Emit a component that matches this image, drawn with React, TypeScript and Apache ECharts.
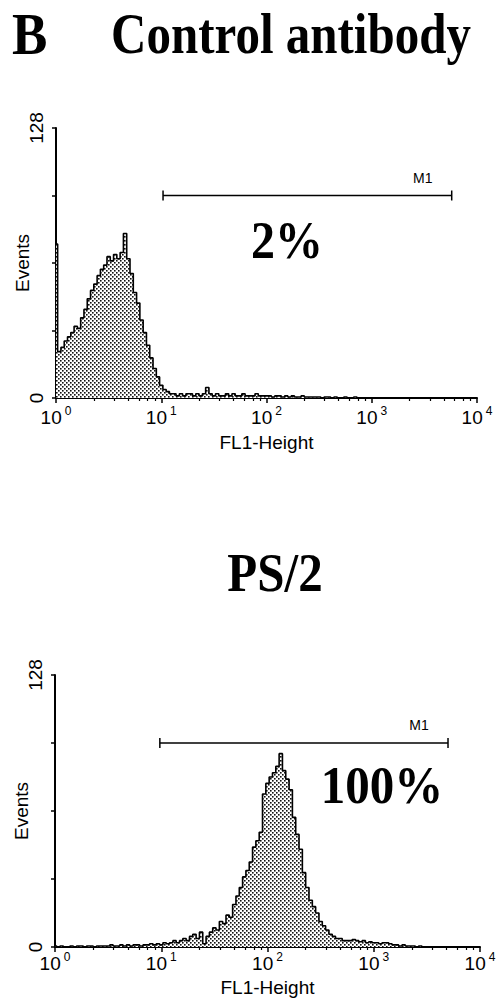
import React, { useEffect, useRef } from "react";
import * as echarts from "echarts";

// ---- data ----
const CHANNELS_PER_DECADE = 32;
const decades = [0, 1, 2, 3, 4];
const yTickLabels = [0, 128];
const percentLabels = ["2%", "100%"];
const panelTitles = ["Control antibody", "PS/2"];
const m1Top = [10.4, 5750];
const m1Bottom = [9.7, 5000];
const m1Level = 96;

// Control antibody histogram counts (128 channels, 32 per decade)
const controlCounts = [
  73, 22, 24, 27, 29, 31, 34, 33, 38, 42, 47, 51, 54, 58, 61, 63,
  67, 65, 68, 66, 69, 78, 66, 59, 50, 45, 37, 31, 25, 19, 14, 10,
  6, 4, 3, 2, 2, 1, 2, 1, 2, 2, 1, 2, 1, 2, 5, 2,
  1, 2, 1, 1, 2, 1, 2, 1, 1, 2, 1, 1, 1, 2, 1, 1,
  1, 1, 0.5, 1, 1, 0.5, 1, 0.5, 1, 0.5, 0.5, 1, 0.5, 0.5, 0.5, 0.5,
  0.5, 0, 0.5, 0.5, 0, 0.5, 0, 0, 0.5, 0, 0, 0.5, 0, 0, 0, 0,
  0, 0, 0, 0, 0, 0, 0, 0, 0, 0, 0, 0, 0, 0, 0, 0,
  0, 0, 0, 0, 0, 0, 0, 0, 0, 0, 0, 0, 0, 0, 0, 0,
];

// PS/2 histogram counts
const ps2Counts = [
  0.5, 0, 0.5, 0, 0, 0.5, 0, 0.5, 0.5, 0, 0.5, 0.5, 0, 0.5, 0.5, 0.5,
  0.5, 1, 0.5, 0.5, 1, 0.5, 1, 0.5, 1, 1, 0.5, 1, 1, 1.5, 1, 1.5,
  1, 2, 1.5, 2, 3, 2, 3, 4, 3, 5, 6, 4, 7, 1.5, 5, 7,
  9, 8, 12, 11, 15, 14, 20, 24, 28, 33, 36, 40, 47, 50, 54, 72,
  77, 80, 82, 85, 91, 83, 79, 74, 61, 53, 46, 35, 28, 22, 19, 16,
  12, 10, 8, 6, 5, 4, 4, 3, 3, 3, 3.5, 3, 2.5, 3, 2, 2.5,
  2, 2, 1.5, 2, 2, 1.5, 1, 1, 0.5, 1, 0.5, 0.5, 0.5, 0, 0.5, 0,
  0, 0, 0, 0, 0, 0, 0, 0, 0, 0, 0, 0, 0, 0, 0, 0,
];

function toPoints(counts: number[]) {
  return counts.map((c, i) => [Math.pow(10, i / CHANNELS_PER_DECADE), c]);
}

function makePattern() {
  const c = document.createElement("canvas");
  c.width = 4;
  c.height = 4;
  const ctx = c.getContext("2d")!;
  ctx.fillStyle = "#ffffff";
  ctx.fillRect(0, 0, 4, 4);
  ctx.fillStyle = "#111111";
  ctx.fillRect(0, 0, 1.6, 1.6);
  ctx.fillRect(2, 2, 1.6, 1.6);
  return c;
}

const SANS = "'Liberation Sans', Arial, sans-serif";
const SERIF = "'Liberation Serif', 'Times New Roman', serif";

export default function App() {
  const ref = useRef<HTMLDivElement>(null);
  useEffect(() => {
    if (!ref.current) return;
    const chart = echarts.init(ref.current, undefined, { renderer: "svg" });
    const pattern = makePattern();

    const grids = [
      { left: 56, top: 128, width: 421, height: 270, containLabel: false, outerBoundsMode: "none" },
      { left: 55, top: 675, width: 425, height: 272, containLabel: false, outerBoundsMode: "none" },
    ];

    const xAxis = grids.map((_, gi) => ({
      type: "log" as const,
      logBase: 10,
      gridIndex: gi,
      min: Math.pow(10, decades[0]),
      max: Math.pow(10, decades[decades.length - 1]),
      name: "FL1-Height",
      nameLocation: "middle" as const,
      nameGap: gi === 0 ? 35 : 31,
      nameMoveOverlap: false,
      nameTextStyle: { fontFamily: SANS, fontSize: 19, color: "#000" },
      axisLine: { show: true, lineStyle: { color: "#000", width: 2 } },
      axisTick: { show: true, length: 5, lineStyle: { color: "#000", width: 1.5 } },
      minorTick: { show: true, splitNumber: 7, length: 3, lineStyle: { color: "#000", width: 1.2 } },
      splitLine: { show: false },
      minorSplitLine: { show: false },
      axisLabel: {
        show: true,
        margin: gi === 0 ? 7 : 4,
        showMinLabel: true,
        showMaxLabel: true,
        hideOverlap: false,
        formatter: (v: number) => `10{s|${Math.round(Math.log10(v))}}`,
        fontFamily: SANS,
        fontSize: 19,
        color: "#000",
        rich: { s: { fontFamily: SANS, fontSize: 12, color: "#000", padding: [0, 0, 13, 3] } },
      },
    }));

    const yAxis = grids.map((_, gi) => ({
      type: "value" as const,
      gridIndex: gi,
      min: 0,
      max: 128,
      interval: 32,
      name: "Events",
      nameLocation: "middle" as const,
      nameRotate: 90,
      nameGap: 24,
      nameMoveOverlap: false,
      nameTextStyle: { fontFamily: SANS, fontSize: 19, color: "#000" },
      axisLine: { show: true, lineStyle: { color: "#000", width: 2 } },
      axisTick: { show: true, length: 4, lineStyle: { color: "#000", width: 1.5 } },
      splitLine: { show: false },
      axisLabel: {
        show: true,
        rotate: 90,
        margin: 10,
        fontFamily: SANS,
        fontSize: 19,
        color: "#000",
        formatter: (v: number) => (yTickLabels.includes(v) ? String(v) : ""),
      },
    }));

    const histSeries = (counts: number[], gi: number) => ({
      type: "line" as const,
      xAxisIndex: gi,
      yAxisIndex: gi,
      data: toPoints(counts),
      step: "middle" as const,
      symbol: "none",
      lineStyle: { color: "#000", width: 1.6 },
      areaStyle: { color: { image: pattern, repeat: "repeat" } as any, opacity: 1 },
      silent: true,
      z: 2,
    });

    const m1Series = (range: number[], gi: number) => ({
      type: "line" as const,
      xAxisIndex: gi,
      yAxisIndex: gi,
      data: [
        { value: [range[0], m1Level] },
        {
          value: [range[1], m1Level],
          label: {
            show: true,
            formatter: "M1",
            position: "top",
            offset: [-29, -1],
            fontFamily: SANS,
            fontSize: 14,
            color: "#000",
          },
        },
      ],
      symbol: "rect",
      symbolSize: [1.5, 10],
      itemStyle: { color: "#000" },
      lineStyle: { color: "#000", width: 1.6 },
      silent: true,
      z: 3,
    });

    chart.setOption({
      animation: false,
      backgroundColor: "#fff",
      grid: grids,
      xAxis,
      yAxis,
      series: [
        histSeries(controlCounts, 0),
        histSeries(ps2Counts, 1),
        m1Series(m1Top, 0),
        m1Series(m1Bottom, 1),
      ],
      graphic: [
        {
          type: "text",
          x: 12,
          y: 34,
          scaleY: 1.1,
          style: { text: "B", font: `bold 53px ${SERIF}`, fill: "#000", align: "left", verticalAlign: "middle" },
        },
        {
          type: "text",
          x: 291,
          y: 34,
          scaleY: 1.15,
          style: {
            text: panelTitles[0],
            font: `bold 49px ${SERIF}`,
            fill: "#000",
            align: "center",
            verticalAlign: "middle",
          },
        },
        {
          type: "text",
          x: 275,
          y: 573,
          scaleY: 1.12,
          style: {
            text: panelTitles[1],
            font: `bold 49px ${SERIF}`,
            fill: "#000",
            align: "center",
            verticalAlign: "middle",
          },
        },
        {
          type: "text",
          x: 287,
          y: 240,
          scaleY: 1.08,
          style: {
            text: percentLabels[0],
            font: `bold 48px ${SERIF}`,
            fill: "#000",
            align: "center",
            verticalAlign: "middle",
          },
        },
        {
          type: "text",
          x: 382,
          y: 785,
          scaleY: 1.08,
          style: {
            text: percentLabels[1],
            font: `bold 49px ${SERIF}`,
            fill: "#000",
            align: "center",
            verticalAlign: "middle",
          },
        },
      ],
    });
    return () => chart.dispose();
  }, []);
  return (
    <div
      ref={ref}
      style={{ position: "fixed", left: 0, top: 0, width: 498, height: 998, background: "#fff" }}
    />
  );
}
